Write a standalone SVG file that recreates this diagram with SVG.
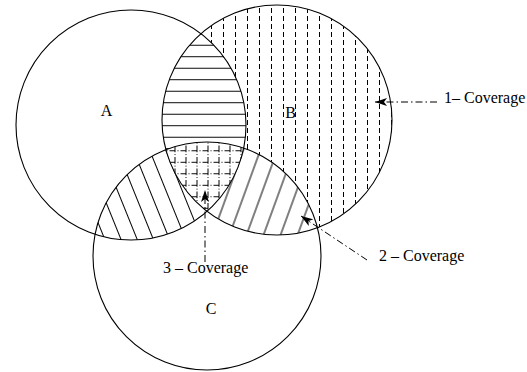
<svg xmlns="http://www.w3.org/2000/svg" width="527" height="372" viewBox="0 0 527 372">
<style>
.circ{fill:none;stroke:#000;stroke-width:1.1}
.lbl{font-family:"Liberation Serif","Times New Roman",serif;font-size:16px;fill:#000}
.conn{fill:none;stroke:#000;stroke-width:1;stroke-dasharray:7 3 1.5 3}
.h{stroke:#000;stroke-width:1;fill:none}
.hc{stroke:#000;stroke-width:1;fill:none;shape-rendering:crispEdges}
</style>
<defs>
<clipPath id="cA"><circle cx="131" cy="125" r="115"/></clipPath>
<clipPath id="cB"><circle cx="277" cy="120" r="115"/></clipPath>
<clipPath id="cC"><circle cx="207" cy="256" r="114"/></clipPath>
<mask id="notA" maskUnits="userSpaceOnUse" x="0" y="0" width="527" height="372"><rect width="527" height="372" fill="#fff"/><circle cx="131" cy="125" r="115" fill="#000"/></mask>
<mask id="notB" maskUnits="userSpaceOnUse" x="0" y="0" width="527" height="372"><rect width="527" height="372" fill="#fff"/><circle cx="277" cy="120" r="115" fill="#000"/></mask>
<mask id="notC" maskUnits="userSpaceOnUse" x="0" y="0" width="527" height="372"><rect width="527" height="372" fill="#fff"/><circle cx="207" cy="256" r="114" fill="#000"/></mask>
<mask id="notAC" maskUnits="userSpaceOnUse" x="0" y="0" width="527" height="372"><rect width="527" height="372" fill="#fff"/><circle cx="131" cy="125" r="115" fill="#000"/><circle cx="207" cy="256" r="114" fill="#000"/></mask>
<pattern id="hz" patternUnits="userSpaceOnUse" x="0" y="39" width="20" height="11.5"><path class="hc" d="M-1 6H21"/></pattern>
<pattern id="vd" patternUnits="userSpaceOnUse" x="1" y="0" width="12" height="8"><path class="hc" d="M6.5 0V5"/></pattern>
<pattern id="dl" patternUnits="userSpaceOnUse" width="15" height="15" patternTransform="rotate(-22)"><path class="h" d="M7.5 -1V16"/></pattern>
<pattern id="dr" patternUnits="userSpaceOnUse" width="16" height="15" patternTransform="rotate(20)"><path class="h" d="M8 -1V16"/></pattern>
<pattern id="grid" patternUnits="userSpaceOnUse" x="169.5" y="145.5" width="11" height="11.5"><path class="hc" d="M0 5.5H6M8 5.5H9"/><path class="hc" d="M5.5 0V6.5M5.5 8.5V9.5"/></pattern>
<marker id="arr" markerUnits="userSpaceOnUse" markerWidth="13" markerHeight="8" refX="12" refY="4" orient="auto"><path d="M0 0L12 4L0 8L3 4Z" fill="#000"/></marker>
</defs>
<rect width="527" height="372" fill="#fff"/>
<g id="hatching">
<g mask="url(#notC)"><g clip-path="url(#cB)"><rect width="527" height="372" fill="url(#hz)" clip-path="url(#cA)"/></g></g>
<g mask="url(#notAC)"><rect width="527" height="372" fill="url(#vd)" clip-path="url(#cB)"/></g>
<g mask="url(#notB)"><g clip-path="url(#cC)"><rect width="527" height="372" fill="url(#dl)" clip-path="url(#cA)"/></g></g>
<g mask="url(#notA)"><g clip-path="url(#cC)"><rect width="527" height="372" fill="url(#dr)" clip-path="url(#cB)"/></g></g>
<g clip-path="url(#cC)"><g clip-path="url(#cB)"><rect width="527" height="372" fill="url(#grid)" clip-path="url(#cA)"/></g></g>
</g>
<g id="A"><circle class="circ" cx="131" cy="125" r="115"/><text class="lbl" x="106.5" y="116" text-anchor="middle">A</text></g>
<g id="B"><circle class="circ" cx="277" cy="120" r="115"/><text class="lbl" x="290.5" y="117.5" text-anchor="middle">B</text></g>
<g id="C"><circle class="circ" cx="207" cy="256" r="114"/><text class="lbl" x="211" y="314" text-anchor="middle">C</text></g>
<g id="connectors">
<path class="conn" d="M437 102H375" marker-end="url(#arr)"/>
<path class="conn" d="M367 260L301 216" marker-end="url(#arr)"/>
<path class="conn" d="M205 262V190" marker-end="url(#arr)"/>
</g>
<g id="labels">
<text class="lbl" x="444" y="103">1– Coverage</text>
<text class="lbl" x="379" y="260.5">2 – Coverage</text>
<text class="lbl" x="163" y="272.5">3 – Coverage</text>
</g>
</svg>
